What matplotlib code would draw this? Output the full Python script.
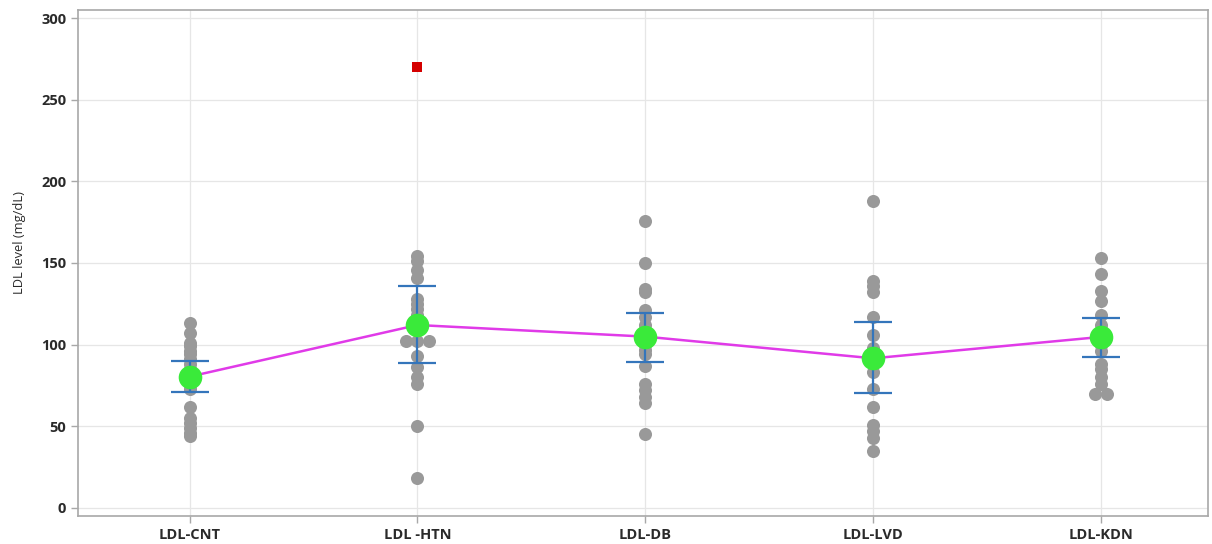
import matplotlib
matplotlib.use("Agg")
import matplotlib.pyplot as plt
import numpy as np
from collections import Counter

plt.rcParams['font.family'] = ['Open Sans', 'DejaVu Sans']

# Groups and individual LDL measurements (mg/dL)
categories = ["LDL-CNT", "LDL -HTN", "LDL-DB", "LDL-LVD", "LDL-KDN"]
ldl_cnt = [113, 107, 101, 99, 96, 94, 91, 88, 85, 82, 80, 78, 75, 73, 62, 55, 52, 49, 46, 44]
ldl_htn = [154, 151, 146, 141, 128, 125, 122, 118, 112, 102, 102, 102, 93, 86, 80, 76, 50, 18]
ldl_db = [176, 150, 134, 132, 121, 117, 112, 108, 105, 100, 97, 94, 87, 76, 72, 68, 64, 45]
ldl_lvd = [188, 139, 136, 132, 117, 106, 98, 92, 88, 83, 73, 62, 51, 47, 43, 35]
ldl_kdn = [153, 143, 133, 127, 118, 112, 108, 100, 96, 88, 85, 80, 76, 70, 70]
groups = [ldl_cnt, ldl_htn, ldl_db, ldl_lvd, ldl_kdn]

# Outlier observation (HTN group)
outlier_group = 1
outlier_value = 270

# Group means with confidence interval bounds
means = [80.4, 112.0, 104.9, 91.6, 104.7]
ci_low = [71.0, 88.9, 89.6, 70.2, 92.2]
ci_high = [90.2, 135.9, 119.6, 114.0, 116.5]

yticks = [0, 50, 100, 150, 200, 250, 300]

fig = plt.figure(figsize=(12.12, 5.44), dpi=100)
ax = fig.add_axes([0.0644, 0.0515, 0.9323, 0.9301])

x = np.arange(len(categories))

# Individual points; identical values are spread side by side
for i, vals in enumerate(groups):
    counts = Counter(vals)
    seen = Counter()
    xs = []
    for v in vals:
        n = counts[v]
        k = seen[v]
        seen[v] += 1
        xs.append(i + (k - (n - 1) / 2) * 0.05)
    ax.plot(xs, vals, 'o', color='#999999', markersize=9.4, markeredgewidth=0, zorder=2)

ax.plot([outlier_group], [outlier_value], 's', color='#d40000', markersize=7.3,
        markeredgewidth=0, zorder=2)

means_arr = np.array(means)
yerr = np.vstack([means_arr - np.array(ci_low), np.array(ci_high) - means_arr])
ax.errorbar(x, means_arr, yerr=yerr, fmt='none', ecolor='#3475bb', elinewidth=1.6,
            capsize=13.5, capthick=1.6, zorder=3)
ax.plot(x, means_arr, '-', color='#e03ae8', linewidth=1.8, zorder=4)
ax.plot(x, means_arr, 'o', color='#3aea3a', markersize=17, markeredgewidth=0, zorder=5)

ax.set_xlim(-0.49, 4.47)
ax.set_ylim(-5, 305)
ax.set_xticks(x)
ax.set_xticklabels(categories)
ax.set_yticks(yticks)

ax.grid(True, color='#e6e6e6', linewidth=0.9, zorder=0)
ax.set_axisbelow(True)
for side in ['left', 'bottom', 'top', 'right']:
    ax.spines[side].set_color('#a8a8a8')
    ax.spines[side].set_linewidth(1.2)
ax.tick_params(axis='both', colors='#a8a8a8', length=5, width=1,
               labelcolor='#2a2a2a', labelsize=10.5)
for lbl in ax.get_xticklabels() + ax.get_yticklabels():
    lbl.set_fontweight('bold')
ax.set_ylabel("LDL level (mg/dL)", fontsize=9.3, color='#2a2a2a')
ax.yaxis.set_label_coords(-0.046, 0.54)

fig.savefig("out.png", dpi=100)
